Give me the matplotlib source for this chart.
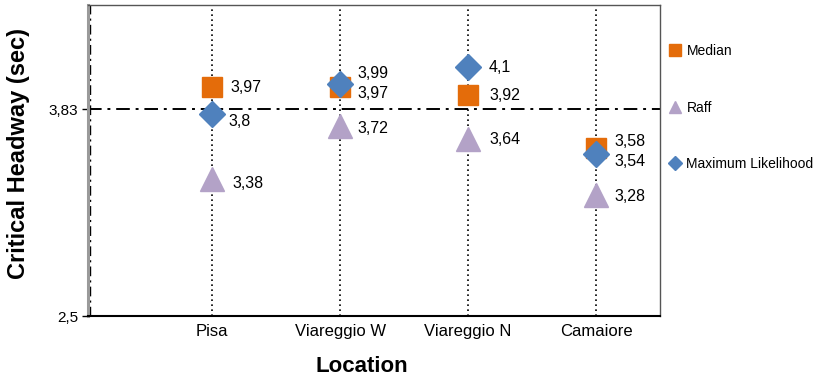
import matplotlib
matplotlib.use("Agg")
import matplotlib.pyplot as plt

# data
locations = ["Pisa", "Viareggio W", "Viareggio N", "Camaiore"]
median = [3.97, 3.97, 3.92, 3.58]
raff = [3.38, 3.72, 3.64, 3.28]
max_likelihood = [3.80, 3.99, 4.10, 3.54]
reference_value = 3.83
y_ticks = [2.5, 3.83]
y_tick_labels = ["2,5", "3,83"]

plt.rcParams["font.family"] = ["Liberation Sans", "DejaVu Sans"]

fig = plt.figure(figsize=(8.18, 3.79), dpi=100)
ax = fig.add_axes([88 / 818, 1 - 316 / 379, (660 - 88) / 818, (316 - 5) / 379])

x = list(range(1, len(locations) + 1))
x_left, x_right = 0.03, 4.5

# guide lines
for xi in x:
    ax.axvline(xi, color="black", linestyle=(0, (1, 2)), linewidth=1.2, zorder=1)
ax.axhline(reference_value, color="black", linestyle=(0, (7, 3, 1.5, 3)), linewidth=1.4, zorder=1)
ax.axvline(x_left + 0.012, color="black", linestyle=(0, (7, 3, 1.5, 3)), linewidth=1.0, zorder=1)

orange = "#E46C0A"
purple = "#B3A2C7"
blue = "#4F81BD"

ax.plot(x, median, linestyle="none", marker="s", markersize=15, color=orange, label="Median", zorder=3)
ax.plot(x, raff, linestyle="none", marker="^", markersize=17, color=purple, label="Raff", zorder=3)
ax.plot(x, max_likelihood, linestyle="none", marker="D", markersize=13, color=blue,
        label="Maximum Likelihood", zorder=4)


def fmt(v):
    return ("%g" % v).replace(".", ",")


# data labels (pixel offsets from marker centre; y positive = up)
label_offsets = {
    "median": [(18, 0), (17, -6), (21, 0), (18, 7)],
    "raff": [(20, -4), (17, -2), (21, -1), (18, -2)],
    "ml": [(16, -8), (17, 11), (21, 0), (18, -7)],
}
px = 72.0 / fig.dpi
for key, series in (("median", median), ("raff", raff), ("ml", max_likelihood)):
    for xi, v, (dx, dy) in zip(x, series, label_offsets[key]):
        ax.annotate(fmt(v), (xi, v), xytext=(dx * px, dy * px), textcoords="offset points",
                    ha="left", va="center", fontsize=11.5, zorder=5)

ax.set_xlim(x_left, x_right)
ax.set_ylim(2.5, 4.5)
ax.set_xticks(x)
ax.set_xticklabels(locations, fontsize=12)
ax.set_yticks(y_ticks)
ax.set_yticklabels(y_tick_labels, fontsize=11)
ax.tick_params(axis="x", length=0, pad=6)
ax.tick_params(axis="y", length=4, width=1, direction="out", pad=3)

ax.spines["left"].set_color("#9a9a9a")
ax.spines["left"].set_linewidth(2.2)
ax.spines["bottom"].set_color("black")
ax.spines["bottom"].set_linewidth(1.5)
ax.spines["top"].set_color("#555555")
ax.spines["top"].set_linewidth(1.0)
ax.spines["right"].set_color("#555555")
ax.spines["right"].set_linewidth(1.0)

ax.set_ylabel("Critical Headway (sec)", fontsize=17, fontweight="bold")
ax.yaxis.set_label_coords(-0.102, 0.522)
ax.set_xlabel("Location", fontsize=16, fontweight="bold")
ax.xaxis.set_label_coords(0.479, -0.128)

ax.legend(loc="upper left", bbox_to_anchor=(1.0, 0.905), frameon=False, fontsize=10,
          markerscale=0.55, labelspacing=3.05, handlelength=0.8, handletextpad=0.4,
          borderaxespad=0.3)

fig.savefig("out.png", dpi=100)
